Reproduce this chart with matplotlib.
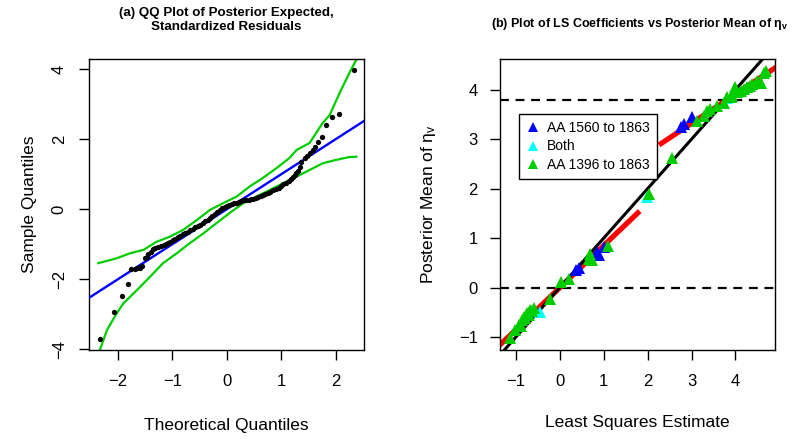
import matplotlib
matplotlib.use("Agg")
import matplotlib.pyplot as plt
from matplotlib.lines import Line2D

plt.rcParams['font.family'] = ['Liberation Sans', 'DejaVu Sans']
plt.rcParams['mathtext.fontset'] = 'custom'
plt.rcParams['mathtext.rm'] = 'Liberation Sans'
plt.rcParams['mathtext.it'] = 'Liberation Sans:italic'
plt.rcParams['mathtext.bf'] = 'Liberation Sans:bold'

# ---------------- Panel (a) data ----------------
qq_theoretical = [-2.33, -2.07, -1.93, -1.81, -1.75, -1.69, -1.64, -1.59, -1.55, -1.50,
                  -1.47, -1.44, -1.40, -1.36, -1.31, -1.26, -1.21, -1.16, -1.12, -1.08,
                  -1.04, -0.99, -0.95, -0.90, -0.85, -0.80, -0.76, -0.71, -0.67, -0.62,
                  -0.58, -0.53, -0.49, -0.44, -0.40, -0.35, -0.31, -0.27, -0.22, -0.18,
                  -0.13, -0.09, -0.04, 0.00, 0.04, 0.09, 0.13, 0.18, 0.22, 0.27,
                  0.31, 0.35, 0.40, 0.44, 0.49, 0.53, 0.58, 0.62, 0.67, 0.71,
                  0.76, 0.80, 0.85, 0.90, 0.95, 0.99, 1.04, 1.09, 1.14, 1.18,
                  1.22, 1.25, 1.28, 1.31, 1.34, 1.37, 1.43, 1.48, 1.52, 1.58,
                  1.62, 1.67, 1.75, 1.83, 1.94, 2.07, 2.33]
qq_sample = [-3.71, -2.94, -2.47, -2.14, -1.71, -1.70, -1.69, -1.67, -1.62, -1.40,
             -1.35, -1.28, -1.22, -1.15, -1.10, -1.07, -1.05, -1.03, -1.00, -0.97,
             -0.93, -0.89, -0.85, -0.80, -0.76, -0.72, -0.68, -0.64, -0.60, -0.56,
             -0.52, -0.48, -0.44, -0.40, -0.35, -0.30, -0.25, -0.20, -0.15, -0.09,
             -0.03, 0.03, 0.07, 0.10, 0.13, 0.15, 0.17, 0.19, 0.21, 0.23,
             0.25, 0.26, 0.27, 0.28, 0.30, 0.32, 0.35, 0.37, 0.40, 0.43,
             0.46, 0.50, 0.54, 0.58, 0.62, 0.66, 0.71, 0.76, 0.81, 0.87,
             0.92, 0.97, 1.03, 1.10, 1.22, 1.36, 1.46, 1.53, 1.60, 1.69,
             1.79, 1.91, 2.05, 2.40, 2.64, 2.73, 3.98]

qqline_intercept = 0.0
qqline_slope = 1.0

env_upper_x = [-2.36, -2.02, -1.78, -1.53, -1.29, -1.04, -0.80, -0.55, -0.31, -0.07,
               0.18, 0.42, 0.66, 0.91, 1.15, 1.28, 1.52, 1.76, 1.89, 2.07, 2.25, 2.38]
env_upper_y = [-1.54, -1.40, -1.26, -1.16, -0.93, -0.78, -0.59, -0.31, -0.02, 0.17,
               0.36, 0.65, 0.89, 1.17, 1.46, 1.69, 1.89, 2.46, 2.69, 3.31, 3.89, 4.27]
env_lower_x = [-2.36, -2.20, -2.02, -1.90, -1.65, -1.41, -1.17, -0.92, -0.68, -0.43,
               -0.19, 0.05, 0.30, 0.54, 0.79, 1.03, 1.28, 1.52, 1.76, 2.01, 2.25, 2.38]
env_lower_y = [-4.15, -3.45, -2.97, -2.69, -2.31, -1.93, -1.54, -1.26, -0.97, -0.69,
               -0.40, -0.11, 0.17, 0.36, 0.55, 0.74, 0.93, 1.12, 1.31, 1.41, 1.49, 1.50]

a_xticks = [-2, -1, 0, 1, 2]
a_yticks = [-4, -2, 0, 2, 4]

# ---------------- Panel (b) data ----------------
blue_x = [0.36, 0.43, 0.85, 0.89, 1.00, 2.75, 2.82, 3.02]
blue_y = [0.35, 0.40, 0.72, 0.65, 0.83, 3.24, 3.31, 3.45]
cyan_x = [-0.44, 1.99, 3.81]
cyan_y = [-0.49, 1.84, 3.83]
green_x = [-1.14, -1.01, -0.93, -0.89, -0.86, -0.82, -0.78, -0.74, -0.71, -0.67,
           -0.63, -0.59, -0.23, 0.02, 0.22, 0.66, 0.70, 0.74, 1.10, 2.03,
           2.56, 3.13, 3.28, 3.36, 3.43, 3.59, 3.74, 3.81, 3.89, 3.93,
           4.00, 4.04, 4.12, 4.19, 4.27, 4.34, 4.38, 4.50, 4.57, 4.65, 4.69]
green_y = [-1.02, -0.85, -0.75, -0.78, -0.65, -0.60, -0.61, -0.52, -0.55, -0.45,
           -0.48, -0.41, -0.22, 0.12, 0.18, 0.57, 0.68, 0.55, 0.85, 1.90,
           2.62, 3.37, 3.47, 3.56, 3.61, 3.67, 3.74, 3.85, 3.86, 3.88,
           4.05, 3.95, 3.97, 4.02, 4.05, 4.08, 4.12, 4.18, 4.14, 4.33, 4.37]
legend_labels = ["AA 1560 to 1863", "Both", "AA 1396 to 1863"]

identity_intercept = 0.0
identity_slope = 1.0
red_lower = dict(x0=-1.5, x1=1.82, intercept=0.0, slope=0.85)
red_upper = dict(x0=2.26, x1=5.0, intercept=1.55, slope=0.59)
hline_values = [3.8, 0.0]

b_xticks = [-1, 0, 1, 2, 3, 4]
b_yticks = [-1, 0, 1, 2, 3, 4]

# ---------------- Figure ----------------
W, H = 800, 443
fig = plt.figure(figsize=(W / 100, H / 100), dpi=100)
axA = fig.add_axes([89 / W, (H - 350) / H, 275 / W, 291 / H])
axB = fig.add_axes([500 / W, (H - 350) / H, 275 / W, 291 / H])

GREEN = '#00CD00'
TICKFS = 12


def minus(v):
    return f"{v}".replace('-', '\u2212')


for ax in (axA, axB):
    for s in ax.spines.values():
        s.set_linewidth(1.0)
    ax.tick_params(length=7, width=1.0, labelsize=TICKFS, direction='out')

# Panel (a)
axA.set_xlim(-2.53, 2.52)
axA.set_ylim(-4.02, 4.29)
xl = axA.get_xlim()
axA.plot(env_upper_x, env_upper_y, color=GREEN, lw=1.6, zorder=2)
axA.plot(env_lower_x, env_lower_y, color=GREEN, lw=1.6, zorder=2)
axA.plot(list(xl), [qqline_intercept + qqline_slope * v for v in xl],
         color='#0000FF', lw=1.7, zorder=3)
axA.plot(qq_theoretical, qq_sample, 'o', color='black', ms=3.8, mew=0, zorder=4)
axA.set_xticks(a_xticks)
axA.set_xticklabels([minus(v) for v in a_xticks])
axA.set_yticks(a_yticks)
axA.set_yticklabels([minus(v) for v in a_yticks], rotation=90, va='center')
axA.tick_params(axis='x', pad=10)
axA.tick_params(axis='y', pad=9)
axA.set_xlabel("Theoretical Quantiles", fontsize=12.5)
axA.set_ylabel("Sample Quantiles", fontsize=12.5)
axA.xaxis.set_label_coords(0.5, -0.235)
axA.yaxis.set_label_coords(-0.19, 0.5)

# Panel (b)
axB.set_xlim(-1.36, 4.90)
axB.set_ylim(-1.26, 4.62)
xl = axB.get_xlim()
for hv in hline_values:
    axB.axhline(hv, color='black', lw=1.6, ls=(0, (4, 3)), zorder=2)
for seg in (red_lower, red_upper):
    xs = [seg['x0'], seg['x1']]
    axB.plot(xs, [seg['intercept'] + seg['slope'] * v for v in xs],
             color='#FF0000', lw=3.8, solid_capstyle='butt', zorder=2)
axB.plot(list(xl), [identity_intercept + identity_slope * v for v in xl],
         color='black', lw=2.2, zorder=3)
axB.plot(blue_x, blue_y, '^', color='#0000FF', ms=9, mew=0, zorder=4)
axB.plot(cyan_x, cyan_y, '^', color='#00FFFF', ms=9, mew=0, zorder=5)
axB.plot(green_x, green_y, '^', color=GREEN, ms=9, mew=0, zorder=6)
axB.set_xticks(b_xticks)
axB.set_yticks(b_yticks)
axB.set_xticklabels([minus(v) for v in b_xticks])
axB.set_yticklabels([minus(v) for v in b_yticks])
axB.tick_params(axis='x', pad=10)
axB.tick_params(axis='y', pad=9)
axB.set_xlabel("Least Squares Estimate", fontsize=12.5)
axB.set_ylabel("Posterior Mean of \u03b7$_{\\mathrm{v}}$", fontsize=12.5)
axB.xaxis.set_label_coords(0.5, -0.225)
axB.yaxis.set_label_coords(-0.225, 0.5)

handles = [Line2D([], [], marker='^', ls='none', color=c, ms=7, mew=0)
           for c in ('#0000FF', '#00FFFF', GREEN)]
leg = axB.legend(handles, legend_labels, loc='upper left', bbox_to_anchor=(0.07, 0.81),
                 borderaxespad=0, fancybox=False, framealpha=1, edgecolor='black',
                 fontsize=10, handlelength=1.0, handletextpad=0.5, labelspacing=0.3,
                 borderpad=0.5)
leg.get_frame().set_linewidth(1.0)
leg.set_zorder(10)

# Titles (placed in figure pixels, baseline-aligned)
fig.text(226.5 / W, 1 - 16 / H, "(a) QQ Plot of Posterior Expected,",
         ha='center', va='baseline', fontsize=9.6, fontweight='bold')
fig.text(226.5 / W, 1 - 29.5 / H, "Standardized Residuals",
         ha='center', va='baseline', fontsize=9.6, fontweight='bold')
fig.text(640 / W, 1 - 27.5 / H,
         "(b) Plot of LS Coefficients vs Posterior Mean of \u03b7$_{\\mathbf{v}}$",
         ha='center', va='baseline', fontsize=9.0, fontweight='bold')

fig.savefig("out.png", dpi=100)
